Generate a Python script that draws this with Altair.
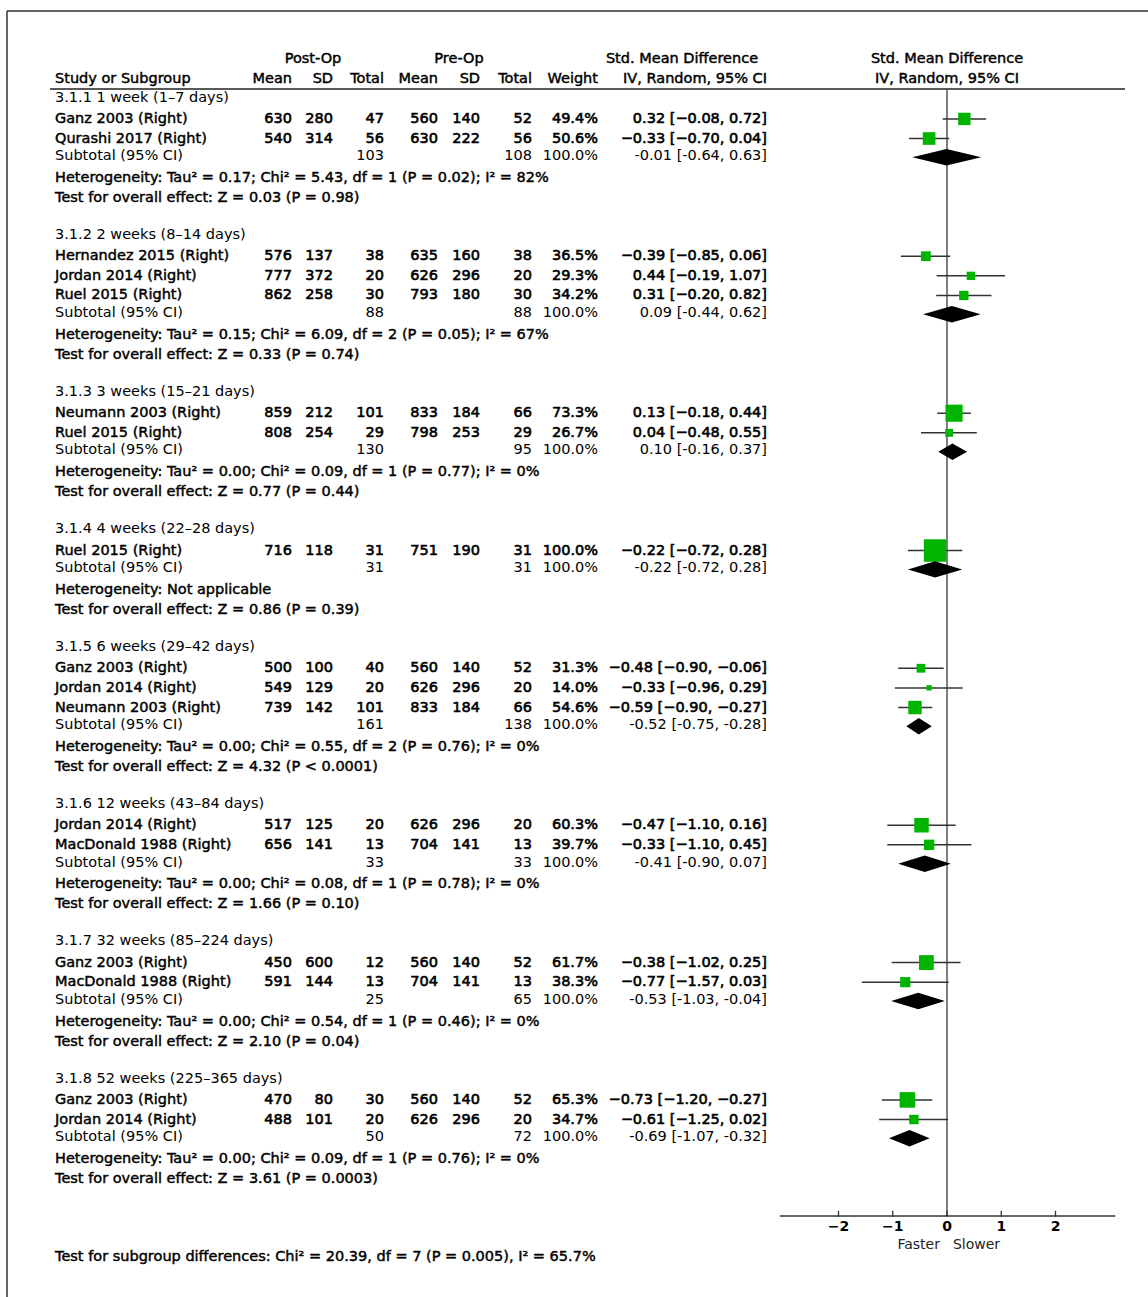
import altair as alt
import pandas as pd

# ------------------------------------------------------------------ data
group_titles = [
    "3.1.1 1 week (1–7 days)",
    "3.1.2 2 weeks (8–14 days)",
    "3.1.3 3 weeks (15–21 days)",
    "3.1.4 4 weeks (22–28 days)",
    "3.1.5 6 weeks (29–42 days)",
    "3.1.6 12 weeks (43–84 days)",
    "3.1.7 32 weeks (85–224 days)",
    "3.1.8 52 weeks (225–365 days)",
]

study_group = [0, 0, 1, 1, 1, 2, 2, 3, 4, 4, 4, 5, 5, 6, 6, 7, 7]
study_name = [
    "Ganz 2003 (Right)", "Qurashi 2017 (Right)",
    "Hernandez 2015 (Right)", "Jordan 2014 (Right)", "Ruel 2015 (Right)",
    "Neumann 2003 (Right)", "Ruel 2015 (Right)",
    "Ruel 2015 (Right)",
    "Ganz 2003 (Right)", "Jordan 2014 (Right)", "Neumann 2003 (Right)",
    "Jordan 2014 (Right)", "MacDonald 1988 (Right)",
    "Ganz 2003 (Right)", "MacDonald 1988 (Right)",
    "Ganz 2003 (Right)", "Jordan 2014 (Right)",
]
post_mean = [630, 540, 576, 777, 862, 859, 808, 716, 500, 549, 739, 517, 656, 450, 591, 470, 488]
post_sd = [280, 314, 137, 372, 258, 212, 254, 118, 100, 129, 142, 125, 141, 600, 144, 80, 101]
post_n = [47, 56, 38, 20, 30, 101, 29, 31, 40, 20, 101, 20, 13, 12, 13, 30, 20]
pre_mean = [560, 630, 635, 626, 793, 833, 798, 751, 560, 626, 833, 626, 704, 560, 704, 560, 626]
pre_sd = [140, 222, 160, 296, 180, 184, 253, 190, 140, 296, 184, 296, 141, 140, 141, 140, 296]
pre_n = [52, 56, 38, 20, 30, 66, 29, 31, 52, 20, 66, 20, 13, 52, 13, 52, 20]
weight = [49.4, 50.6, 36.5, 29.3, 34.2, 73.3, 26.7, 100.0, 31.3, 14.0, 54.6, 60.3, 39.7, 61.7, 38.3, 65.3, 34.7]
smd = [0.32, -0.33, -0.39, 0.44, 0.31, 0.13, 0.04, -0.22, -0.48, -0.33, -0.59, -0.47, -0.33, -0.38, -0.77, -0.73, -0.61]
smd_lo = [-0.08, -0.70, -0.85, -0.19, -0.20, -0.18, -0.48, -0.72, -0.90, -0.96, -0.90, -1.10, -1.10, -1.02, -1.57, -1.20, -1.25]
smd_hi = [0.72, 0.04, 0.06, 1.07, 0.82, 0.44, 0.55, 0.28, -0.06, 0.29, -0.27, 0.16, 0.45, 0.25, 0.03, -0.27, 0.02]

sub_post_n = [103, 88, 130, 31, 161, 33, 25, 50]
sub_pre_n = [108, 88, 95, 31, 138, 33, 65, 72]
sub_smd = [-0.01, 0.09, 0.10, -0.22, -0.52, -0.41, -0.53, -0.69]
sub_lo = [-0.64, -0.44, -0.16, -0.72, -0.75, -0.90, -1.03, -1.07]
sub_hi = [0.63, 0.62, 0.37, 0.28, -0.28, 0.07, -0.04, -0.32]

het_text = [
    "Heterogeneity: Tau² = 0.17; Chi² = 5.43, df = 1 (P = 0.02); I² = 82%",
    "Heterogeneity: Tau² = 0.15; Chi² = 6.09, df = 2 (P = 0.05); I² = 67%",
    "Heterogeneity: Tau² = 0.00; Chi² = 0.09, df = 1 (P = 0.77); I² = 0%",
    "Heterogeneity: Not applicable",
    "Heterogeneity: Tau² = 0.00; Chi² = 0.55, df = 2 (P = 0.76); I² = 0%",
    "Heterogeneity: Tau² = 0.00; Chi² = 0.08, df = 1 (P = 0.78); I² = 0%",
    "Heterogeneity: Tau² = 0.00; Chi² = 0.54, df = 1 (P = 0.46); I² = 0%",
    "Heterogeneity: Tau² = 0.00; Chi² = 0.09, df = 1 (P = 0.76); I² = 0%",
]
test_text = [
    "Test for overall effect: Z = 0.03 (P = 0.98)",
    "Test for overall effect: Z = 0.33 (P = 0.74)",
    "Test for overall effect: Z = 0.77 (P = 0.44)",
    "Test for overall effect: Z = 0.86 (P = 0.39)",
    "Test for overall effect: Z = 4.32 (P < 0.0001)",
    "Test for overall effect: Z = 1.66 (P = 0.10)",
    "Test for overall effect: Z = 2.10 (P = 0.04)",
    "Test for overall effect: Z = 3.61 (P = 0.0003)",
]
footer_text = "Test for subgroup differences: Chi² = 20.39, df = 7 (P = 0.005), I² = 65.7%"

header_top = ["Post-Op", "Pre-Op", "Std. Mean Difference", "Std. Mean Difference"]
header_cols = ["Study or Subgroup", "Mean", "SD", "Total", "Mean", "SD", "Total",
               "Weight", "IV, Random, 95% CI", "IV, Random, 95% CI"]
axis_ticks = [-2, -1, 0, 1, 2]
axis_tick_labels = ["−2", "−1", "0", "1", "2"]
axis_words = ["Faster", "Slower"]

# ------------------------------------------------------------------ styles
FONT = "DejaVu Sans"
FS = 14.5
INK = "#000000"
GREEN = "#00b400"

ys = alt.Scale(domain=[0, 55], range=[98.5, 98.5 + 55 * 19.62])
xs = alt.Scale(domain=[-2, 2], range=[838.5, 1055.5])


def Y(f="row"):
    return alt.Y(f, type="quantitative", scale=ys, axis=None)


def X(f):
    return alt.X(f, type="quantitative", scale=xs, axis=None)


def fmt(v, minus="−"):
    s = f"{abs(v):.2f}"
    return (minus + s) if v < 0 else s


# ------------------------------------------------------------------ tables
title_rows, study_rows, sub_rows, het_rows, test_rows, diamond_pts = [], [], [], [], [], []
r = 0
for g, title in enumerate(group_titles):
    title_rows.append({"row": r - 0.05, "text": title})
    idx = [i for i, sg in enumerate(study_group) if sg == g]
    for k, i in enumerate(idx):
        study_rows.append({
            "row": r + 1 + k + 0.04,
            "name": study_name[i],
            "m1": str(post_mean[i]), "s1": str(post_sd[i]), "n1": str(post_n[i]),
            "m2": str(pre_mean[i]), "s2": str(pre_sd[i]), "n2": str(pre_n[i]),
            "wt": f"{weight[i]:.1f}%",
            "ci": f"{fmt(smd[i])} [{fmt(smd_lo[i])}, {fmt(smd_hi[i])}]",
            "est": smd[i], "lo": smd_lo[i], "hi": smd_hi[i], "weight": weight[i],
        })
    rs = r + len(idx) + 1
    sub_rows.append({
        "row": rs - 0.06, "name": "Subtotal (95% CI)",
        "n1": str(sub_post_n[g]), "n2": str(sub_pre_n[g]), "wt": "100.0%",
        "ci": f"{fmt(sub_smd[g], '-')} [{fmt(sub_lo[g], '-')}, {fmt(sub_hi[g], '-')}]",
    })
    h = 0.42
    diamond_pts += [
        {"g": g, "x": sub_lo[g], "yt": rs, "yb": rs},
        {"g": g, "x": sub_smd[g], "yt": rs - h, "yb": rs + h},
        {"g": g, "x": sub_hi[g], "yt": rs, "yb": rs},
    ]
    het_rows.append({"row": rs + 1 + 0.06, "text": het_text[g]})
    test_rows.append({"row": rs + 2 + 0.07, "text": test_text[g]})
    r = rs + 4

study_df = pd.DataFrame(study_rows)
sub_df = pd.DataFrame(sub_rows)
title_df = pd.DataFrame(title_rows)
het_df = pd.DataFrame(het_rows + test_rows)
diamond_df = pd.DataFrame(diamond_pts)
footer_df = pd.DataFrame([{"row": 59.04, "text": footer_text}])

AXIS_ROW = 56.96
one = pd.DataFrame({"a": [0]})


def text_layer(df, field, x, align="left", fake_bold=False, size=FS, row="row", sw=0.45):
    kw = dict(align=align, baseline="middle", font=FONT, fontSize=size,
              fontWeight="normal", color=INK)
    if fake_bold:
        kw.update(stroke=INK, strokeWidth=sw)
    return alt.Chart(df).mark_text(**kw).encode(
        x=alt.value(x), y=Y(row), text=alt.Text(field, type="nominal"))


layers = []

# frame (top and left edges of the figure box)
layers.append(alt.Chart(one).mark_rule(color="#333333", strokeWidth=1.5).encode(
    x=alt.value(7), x2=alt.value(1148), y=alt.value(11)))
layers.append(alt.Chart(one).mark_rule(color="#333333", strokeWidth=1.5).encode(
    x=alt.value(7), y=alt.value(11), y2=alt.value(1297)))

# header rule and zero line
layers.append(alt.Chart(pd.DataFrame({"row": [-0.48]})).mark_rule(color="#222222", strokeWidth=1.5).encode(
    x=alt.value(50), x2=alt.value(1125), y=Y()))
layers.append(alt.Chart(pd.DataFrame({"x": [0], "y1": [-0.48], "y2": [AXIS_ROW]})).mark_rule(
    color="#555555", strokeWidth=1.5).encode(x=X("x"), y=Y("y1"), y2=alt.Y2("y2")))

# header texts
hdr_top_df = pd.DataFrame({"row": [-2.0] * 4, "text": header_top})
top_pos = [(313, "center"), (459, "center"), (682, "center"), (947, "center")]
for i, (px, al) in enumerate(top_pos):
    layers.append(text_layer(hdr_top_df.iloc[[i]], "text", px, al, fake_bold=True))
hdr_col_df = pd.DataFrame({"row": [-1.0] * len(header_cols), "text": header_cols})
col_pos = [(55, "left"), (292, "right"), (333, "right"), (384, "right"), (438, "right"),
           (480, "right"), (532, "right"), (598, "right"), (767, "right"), (947, "center")]
for i, (px, al) in enumerate(col_pos):
    layers.append(text_layer(hdr_col_df.iloc[[i]], "text", px, al, fake_bold=True))

# group titles
layers.append(text_layer(title_df, "text", 55))

# study rows
layers.append(text_layer(study_df, "name", 55, fake_bold=True))
for f, px in [("m1", 292), ("s1", 333), ("n1", 384), ("m2", 438), ("s2", 480),
              ("n2", 532), ("wt", 598), ("ci", 767)]:
    layers.append(text_layer(study_df, f, px, "right", fake_bold=True, sw=0.6))

# subtotal rows
layers.append(text_layer(sub_df, "name", 55))
for f, px in [("n1", 384), ("n2", 532), ("wt", 598), ("ci", 767)]:
    layers.append(text_layer(sub_df, f, px, "right"))

# heterogeneity / overall effect and footer
layers.append(text_layer(het_df, "text", 55, fake_bold=True))
layers.append(text_layer(footer_df, "text", 55, fake_bold=True))

# forest: CI lines, squares, diamonds
layers.append(alt.Chart(study_df).mark_rule(color="#333333", strokeWidth=1.5).encode(
    x=X("lo"), x2=alt.X2("hi"), y=Y()))
layers.append(alt.Chart(study_df).transform_calculate(sz="datum.weight + 12.5").mark_square(
    color=GREEN, opacity=1, filled=True).encode(
    x=X("est"), y=Y(),
    size=alt.Size("sz:Q", scale=alt.Scale(type="pow", exponent=2, domain=[0, 112.5], range=[0, 506]),
                  legend=None)))
layers.append(alt.Chart(diamond_df).mark_area(color="#000000", opacity=1).encode(
    x=X("x"), y=Y("yt"), y2=alt.Y2("yb"), detail="g:N"))

# bottom axis
layers.append(alt.Chart(pd.DataFrame({"x1": [-3.08], "x2": [3.10], "row": [AXIS_ROW]})).mark_rule(
    color="#333333", strokeWidth=1.5).encode(x=X("x1"), x2=alt.X2("x2"), y=Y()))
tick_df = pd.DataFrame({"x": axis_ticks, "lab": axis_tick_labels,
                        "y1": [AXIS_ROW - 0.27] * 5, "y2": [AXIS_ROW + 0.03] * 5,
                        "row": [AXIS_ROW + 0.58] * 5})
layers.append(alt.Chart(tick_df).mark_rule(color="#333333", strokeWidth=1.3).encode(
    x=X("x"), y=Y("y1"), y2=alt.Y2("y2")))
layers.append(alt.Chart(tick_df).mark_text(font=FONT, fontSize=14, fontWeight="bold", color=INK,
                                           baseline="middle", align="center").encode(
    x=X("x"), y=Y(), text="lab:N"))
word_df = pd.DataFrame({"x": [-0.13, 0.11], "w": axis_words, "row": [AXIS_ROW + 1.5] * 2})
layers.append(alt.Chart(word_df.iloc[[0]]).mark_text(font=FONT, fontSize=14, color="#222222",
                                                     baseline="middle", align="right").encode(
    x=X("x"), y=Y(), text="w:N"))
layers.append(alt.Chart(word_df.iloc[[1]]).mark_text(font=FONT, fontSize=14, color="#222222",
                                                     baseline="middle", align="left").encode(
    x=X("x"), y=Y(), text="w:N"))

chart = alt.layer(*layers).properties(
    width=1148, height=1297, padding=0,
    autosize=alt.AutoSizeParams(type="none"),
    background="white",
).configure_view(strokeWidth=0)

chart.save("out.html", embed_options={"renderer": "svg", "actions": False})
